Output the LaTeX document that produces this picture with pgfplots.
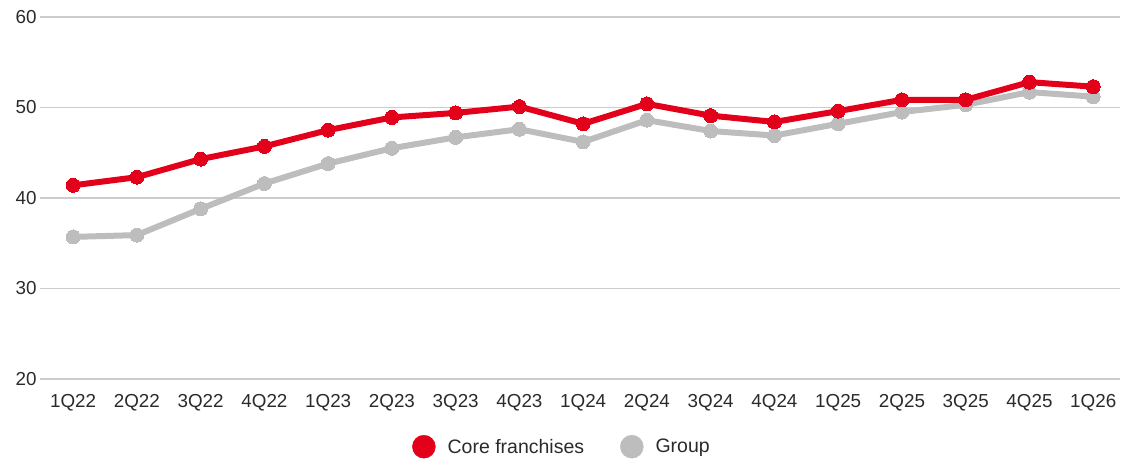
\documentclass[border=0pt]{standalone}
\usepackage{fontspec}
\setmainfont{Liberation Sans}
\usepackage{pgfplots}
\pgfplotsset{compat=1.18}
\definecolor{cred}{HTML}{E2001A}
\definecolor{cgray}{HTML}{BDBDBD}
\definecolor{cgrid}{HTML}{CCCCCC}
\definecolor{ctxt}{HTML}{2A2A2A}
\begin{document}
\begin{tikzpicture}
\path[use as bounding box] (0,0) rectangle (1125pt,462pt);
\begin{axis}[
  at={(40pt,83pt)}, anchor=south west,
  scale only axis, width=1080pt, height=362pt,
  xmin=-0.52, xmax=16.42, ymin=20, ymax=60,
  axis line style={draw=none},
  major tick length=0pt,
  ytick={20,30,40,50,60},
  ymajorgrids, grid style={cgrid, line width=1.8pt},
  xtick={0,...,16},
  xticklabels={1Q22,2Q22,3Q22,4Q22,1Q23,2Q23,3Q23,4Q23,1Q24,2Q24,3Q24,4Q24,1Q25,2Q25,3Q25,4Q25,1Q26},
  tick label style={font=\fontsize{18.8}{21}\selectfont, text=ctxt},
  xticklabel style={yshift=-12pt},
  yticklabel style={xshift=0pt},
  /pgf/number format/assume math mode=true,
  clip=false,
  legend style={at={(0.4833,-0.187)}, anchor=center, draw=none, fill=none,
    font=\fontsize{19.5}{22}\selectfont, text=ctxt,
    legend columns=2,
    /tikz/every even column/.append style={column sep=34pt},
    legend cell align=left},
]
\addlegendimage{legend image code/.code={\fill[cred] (0pt,0pt) circle (11.5pt);}}
\addlegendentry{\hspace{10pt}Core franchises}
\addlegendimage{legend image code/.code={\fill[cgray] (0pt,0pt) circle (11.5pt);}}
\addlegendentry{\hspace{10pt}Group}
\addplot[cgray, line width=6pt, mark=*, mark size=7pt, mark options={solid, fill=cgray, draw=cgray, line width=0pt}, forget plot]
coordinates {(0,35.7)(1,35.9)(2,38.8)(3,41.6)(4,43.8)(5,45.5)(6,46.7)(7,47.6)(8,46.2)(9,48.6)(10,47.4)(11,46.9)(12,48.2)(13,49.5)(14,50.3)(15,51.7)(16,51.2)};
\addplot[cred, line width=6pt, mark=*, mark size=7pt, mark options={solid, fill=cred, draw=cred, line width=0pt}, forget plot]
coordinates {(0,41.4)(1,42.3)(2,44.3)(3,45.7)(4,47.5)(5,48.9)(6,49.4)(7,50.1)(8,48.2)(9,50.4)(10,49.1)(11,48.4)(12,49.6)(13,50.85)(14,50.85)(15,52.8)(16,52.3)};
\end{axis}
\end{tikzpicture}
\end{document}
